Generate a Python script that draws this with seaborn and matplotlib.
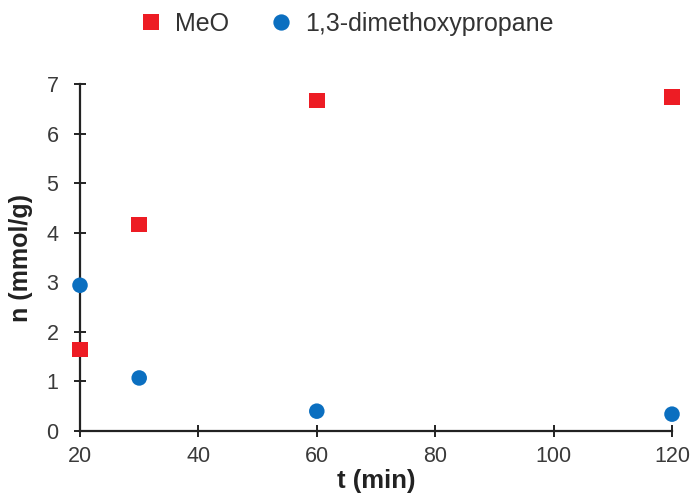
import matplotlib
matplotlib.use("Agg")
import matplotlib.pyplot as plt
import seaborn as sns
import pandas as pd

t_meo = [20, 30, 60, 120]
n_meo = [1.64, 4.17, 6.67, 6.74]
t_dmp = [20, 30, 60, 120]
n_dmp = [2.94, 1.07, 0.40, 0.34]
xticks = [20, 40, 60, 80, 100, 120]
yticks = [0, 1, 2, 3, 4, 5, 6, 7]

sns.set_theme(style="white")
plt.rcParams['font.family'] = ['Liberation Sans', 'DejaVu Sans']

df = pd.concat([
    pd.DataFrame({"t": t_meo, "n": n_meo, "series": "MeO"}),
    pd.DataFrame({"t": t_dmp, "n": n_dmp, "series": "1,3-dimethoxypropane"}),
])

fig = plt.figure(figsize=(6.92, 4.98), dpi=100)
ax = fig.add_axes([80/692, 67/498, 592/692, 347/498])

sns.scatterplot(data=df, x="t", y="n", hue="series", style="series",
                palette={"MeO": "#ED1C24", "1,3-dimethoxypropane": "#0B6FC0"},
                markers={"MeO": "s", "1,3-dimethoxypropane": "o"},
                s=125, linewidth=0, ax=ax, clip_on=False, zorder=5)

ax.set_xlim(20, 120)
ax.set_ylim(0, 7)
ax.set_xticks(xticks)
ax.set_yticks(yticks)
ax.spines['top'].set_visible(False)
ax.spines['right'].set_visible(False)
for s in ['left', 'bottom']:
    ax.spines[s].set_linewidth(1.6)
    ax.spines[s].set_color('#222222')
ax.tick_params(axis='both', bottom=True, left=True, direction='inout', length=9,
               width=1.4, color='#222222', labelsize=15.5, labelcolor='#3a3a3a')
ax.tick_params(axis='x', pad=6)
ax.tick_params(axis='y', pad=11)
ax.set_xlabel("t (min)", fontsize=18.5, fontweight='bold', color='#222222', labelpad=2)
ax.set_ylabel("n (mmol/g)", fontsize=18, fontweight='bold', color='#222222')
ax.yaxis.set_label_coords(-0.079, 0.5)

h, l = ax.get_legend_handles_labels()
ax.legend_.remove()
fig.legend(h, l, loc='center', bbox_to_anchor=(0.5, 0.952), ncol=2, frameon=False,
           fontsize=18, handlelength=1.0, handletextpad=0.45, columnspacing=1.6,
           markerscale=1.05, labelcolor='#333333')

fig.savefig("out.png", dpi=100)
